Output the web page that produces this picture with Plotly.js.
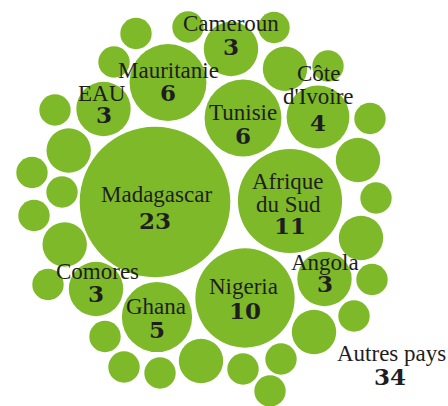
<!DOCTYPE html>
<html>
<head>
<meta charset="utf-8">
<script src="https://cdn.plot.ly/plotly-3.0.1.min.js"></script>
<style>
  html, body { margin: 0; padding: 0; background: #fff; }
  #chart { width: 448px; height: 406px; }
</style>
</head>
<body>
<div id="chart"></div>
<script>
// Pays avec étiquette : nom, nombre, centre de la bulle (repère en px, y vers le bas)
const countries = ['Madagascar', 'Afrique du Sud', 'Nigeria', 'Mauritanie', 'Tunisie', 'Ghana',
  "Côte d'Ivoire", 'Cameroun', 'EAU', 'Comores', 'Angola'];
const counts = [23, 11, 10, 6, 6, 5, 4, 3, 3, 3, 3];
const countryX = [155, 290, 245, 168, 243, 157, 318, 231, 103.5, 96, 324.5];
const countryY = [202, 201, 298, 82.5, 118, 317, 117, 49, 109, 289, 279];

// Autres pays : petites bulles sans étiquette
const otherCounts = [1, 1, 1, 2, 1, 1, 1, 2, 1, 1, 1, 2, 1, 1, 1, 1, 2, 1, 1, 1, 2, 1, 1, 2, 1, 2, 1];
const otherX = [136, 188, 274, 285, 328, 114, 55, 68.7, 32, 62, 34, 64.7, 48, 105, 124, 160, 201, 243, 281, 270, 314, 354, 372, 361, 376, 358, 370];
const otherY = [33.5, 27, 27.5, 68.7, 66, 62, 110, 150.5, 172.5, 192, 215.5, 244.5, 284.5, 336.5, 367, 373, 361, 369, 359, 391, 332, 316, 279.5, 238, 198, 160, 118.5];
const otherLabel = 'Autres pays';

// Mise en forme des étiquettes
const nameLines = [['Madagascar'], ['Afrique', 'du Sud'], ['Nigeria'], ['Mauritanie'], ['Tunisie'], ['Ghana'],
  ['Côte', "d'Ivoire"], ['Cameroun'], ['EAU'], ['Comores'], ['Angola']];
const nameDx = [1, -2, -2, 0, 0, -1, 0, 0, -1.5, 1.5, 0.5];
const nameDy = [-8, -20, -11.5, -12, -6, -10.5, -44, -25.5, -16, -17.5, -16.5];
const numDy = [18, 24, 12, 9.5, 17, 12.5, 5, -3, 5.5, 4, 4.5];
const LINE = 23.5;

const GREEN = 'rgb(126,185,41)';
const INK = '#1e1e1e';
// une seule famille par police : une liste de familles n'est pas prise en compte ici
const nameFont = { family: 'Liberation Serif', size: 23, color: INK };
const numFont = { family: 'DejaVu Serif', size: 23, color: INK, weight: 'bold' };

// rayon = 15.7 px * sqrt(valeur)
const R1 = 15.7;
const bubbleMarker = {
  color: GREEN,
  sizemode: 'area',
  sizeref: 1 / (2 * R1 * R1),
  line: { width: 0 },
  opacity: 1,
};

const traces = [
  {
    type: 'scatter', mode: 'markers',
    x: countryX, y: countryY,
    marker: Object.assign({ size: counts }, bubbleMarker),
    hoverinfo: 'skip', cliponaxis: false,
  },
  {
    type: 'scatter', mode: 'markers',
    x: otherX, y: otherY,
    marker: Object.assign({ size: otherCounts }, bubbleMarker),
    hoverinfo: 'skip', cliponaxis: false,
  },
];

const annotations = [];
function addText(text, x, y, font) {
  annotations.push({
    text, x, y, xref: 'x', yref: 'y',
    xanchor: 'center', yanchor: 'middle',
    showarrow: false, font,
  });
}

countries.forEach((c, i) => {
  const cx = countryX[i] + nameDx[i];
  nameLines[i].forEach((line, k) => addText(line, cx, countryY[i] + nameDy[i] + k * LINE, nameFont));
  addText(String(counts[i]), countryX[i], countryY[i] + numDy[i], numFont);
});

const otherTotal = otherCounts.reduce((s, v) => s + v, 0);
addText(otherLabel, 391, 353.5, nameFont);
addText(String(otherTotal), 390, 376, numFont);

const layout = {
  width: 448,
  height: 406,
  margin: { l: 0, r: 0, t: 0, b: 0 },
  paper_bgcolor: '#fff',
  plot_bgcolor: '#fff',
  showlegend: false,
  xaxis: { range: [0, 448], visible: false, fixedrange: true },
  yaxis: { range: [406, 0], visible: false, fixedrange: true },
  annotations,
};

Plotly.newPlot('chart', traces, layout, { staticPlot: true, displayModeBar: false });
</script>
</body>
</html>
